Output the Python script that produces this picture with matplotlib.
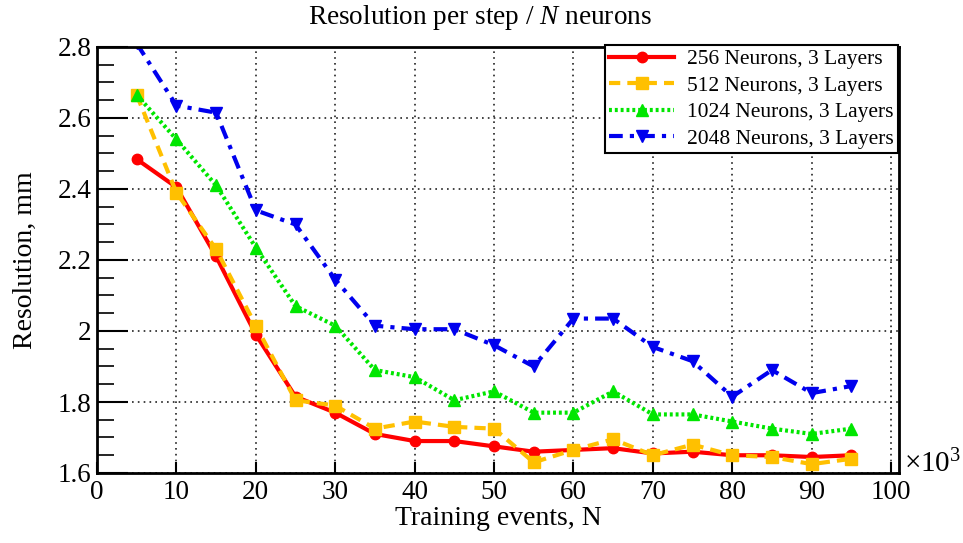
import matplotlib
matplotlib.use("Agg")
import matplotlib.pyplot as plt
from matplotlib.ticker import MultipleLocator

plt.rcParams['font.family'] = ['Liberation Serif', 'DejaVu Serif']
plt.rcParams['mathtext.fontset'] = 'custom'
plt.rcParams['mathtext.it'] = 'Liberation Serif:italic'
plt.rcParams['mathtext.rm'] = 'Liberation Serif'

x = [5, 10, 15, 20, 25, 30, 35, 40, 45, 50, 55, 60, 65, 70, 75, 80, 85, 90, 95]
n256 = [2.484, 2.405, 2.21, 1.99, 1.815, 1.77, 1.71, 1.69, 1.69, 1.675, 1.66, 1.665,
        1.67, 1.655, 1.66, 1.65, 1.65, 1.645, 1.65]
n512 = [2.665, 2.39, 2.23, 2.015, 1.805, 1.79, 1.725, 1.745, 1.73, 1.725, 1.63, 1.665,
        1.695, 1.65, 1.68, 1.65, 1.645, 1.625, 1.64]
n1024 = [2.665, 2.54, 2.41, 2.235, 2.07, 2.015, 1.89, 1.87, 1.805, 1.83, 1.77, 1.77,
         1.83, 1.765, 1.765, 1.745, 1.725, 1.71, 1.725]
n2048 = [2.81, 2.635, 2.615, 2.34, 2.3, 2.145, 2.015, 2.005, 2.005, 1.96, 1.90, 2.035,
         2.035, 1.955, 1.915, 1.815, 1.89, 1.825, 1.845]
labels = ["256 Neurons, 3 Layers", "512 Neurons, 3 Layers",
          "1024 Neurons, 3 Layers", "2048 Neurons, 3 Layers"]
yticks = [1.6, 1.8, 2.0, 2.2, 2.4, 2.6, 2.8]
ytick_labels = ['1.6', '1.8', '2', '2.2', '2.4', '2.6', '2.8']

W, H = 963, 543
fig = plt.figure(figsize=(W/100, H/100), dpi=100)
ax = fig.add_axes([97/W, 1 - 473/H, (899-97)/W, (473-47)/H])

ax.plot(x, n256, color='#ff0000', lw=3, ls='-', marker='o', ms=7.5, label=labels[0])
ax.plot(x, n512, color='#ffc000', lw=3, ls=(0, (2.7, 1.7)), marker='s', ms=8, label=labels[1])
ax.plot(x, n1024, color='#00e600', lw=3, ls=(0, (0.7, 0.7)), marker='^', ms=8, label=labels[2])
ax.plot(x, n2048, color='#0000ee', lw=3, ls=(0, (3.3, 1.7, 1, 1.7)), marker='v', ms=8, label=labels[3])

ax.set_xlim(0, 101)
ax.set_ylim(1.6, 2.8)
ax.set_xticks(range(0, 101, 10))
ax.yaxis.set_minor_locator(MultipleLocator(0.05))
ax.set_yticks(yticks)
ax.set_yticklabels(ytick_labels)
ax.tick_params(axis='both', which='both', direction='in', labelsize=19.5, right=False, top=False)
ax.tick_params(axis='y', which='major', length=22, width=1.5, pad=4)
ax.tick_params(axis='y', which='minor', length=12, width=1.2)
ax.tick_params(axis='x', which='major', length=8, width=1.5, pad=5)
for s in ax.spines.values():
    s.set_linewidth(2)

ax.grid(True, which='major', color='#222222', ls=(0, (1, 2.5)), lw=1.2)

fig.text(480/W, 1 - 17/H, r"Resolution per step / $N$ neurons", fontsize=19.6,
         ha='center', va='center')
ax.set_xlabel("Training events, N", fontsize=20, labelpad=1)
ax.set_ylabel("Resolution, mm", fontsize=20, labelpad=14)
fig.text(904/W, 1 - 464/H, r"$\times10^3$", fontsize=21, va='center', ha='left')

leg = ax.legend(loc='upper right', fontsize=15.5, frameon=True, fancybox=False,
                edgecolor='black', borderpad=0.2, labelspacing=0.3, handlelength=3.0,
                handletextpad=0.6, borderaxespad=0,
                bbox_to_anchor=(898/W, 1 - 45/H), bbox_transform=fig.transFigure,
                framealpha=1)
leg.get_frame().set_linewidth(1.5)

fig.savefig("out.png", dpi=100)
